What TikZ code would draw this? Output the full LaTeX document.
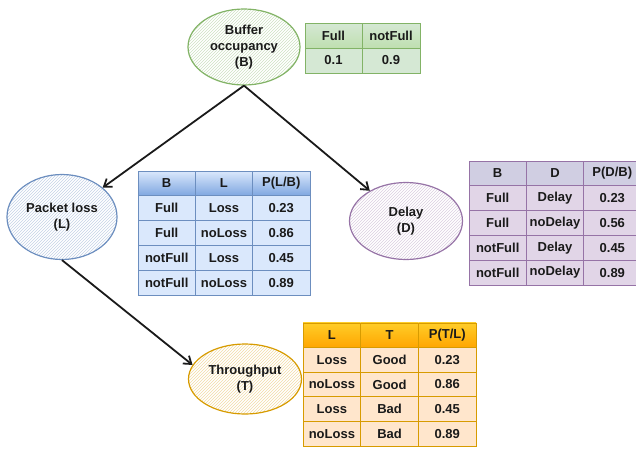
\documentclass[tikz,border=0pt]{standalone}
\usepackage{fontspec}
\setmainfont{Liberation Sans}
\usetikzlibrary{shapes.geometric,patterns,arrows.meta}

\definecolor{txt}{HTML}{1A1A1A}
\definecolor{grnline}{HTML}{82B366}
\definecolor{grnfill}{HTML}{D5E8D4}
\definecolor{grnhead}{HTML}{BFDFB0}
\definecolor{bluline}{HTML}{6C8EBF}
\definecolor{blufill}{HTML}{DAE8FC}
\definecolor{bluhead}{HTML}{7EA6E0}
\definecolor{purline}{HTML}{9673A6}
\definecolor{purfill}{HTML}{E1D5E7}
\definecolor{purhead}{HTML}{D0CEE2}
\definecolor{orgline}{HTML}{D79B00}
\definecolor{orgfill}{HTML}{FFE6CC}
\definecolor{orgtop}{HTML}{FFCD28}
\definecolor{orgbot}{HTML}{FFA500}

\tikzset{
  var/.style={ellipse, draw, line width=1.2pt, pattern=north east lines,
    align=center, inner sep=0pt, text=txt,
    font=\fontsize{13}{16}\selectfont\bfseries},
  cell/.style={draw, line width=0.8pt, inner sep=0pt, minimum height=24.8pt,
    minimum width=57.3pt, text=txt, font=\fontsize{13}{15}\selectfont\bfseries},
  hdG/.style={cell, draw=grnline, top color=grnfill, bottom color=grnhead},
  rwG/.style={cell, draw=grnline, fill=grnfill},
  hdL/.style={cell, draw=bluline, top color=blufill, bottom color=bluhead},
  rwL/.style={cell, draw=bluline, fill=blufill},
  hdD/.style={cell, draw=purline, fill=purhead},
  rwD/.style={cell, draw=purline, fill=purfill},
  hdT/.style={cell, draw=orgline, top color=orgtop, bottom color=orgbot, minimum width=57.7pt},
  rwT/.style={cell, draw=orgline, fill=orgfill, minimum width=57.7pt},
  link/.style={line width=1.8pt, draw=txt, -{Straight Barb[length=7pt,width=10pt]}},
}

\begin{document}
\begin{tikzpicture}[x=1pt,y=-1pt]
  \useasboundingbox (0,0) rectangle (636,450);

  % variables
  \node[var, draw=grnline, pattern color=grnline!40, minimum width=112pt, minimum height=76pt] (B) at (244,47) {Buffer\\occupancy\\(B)};
  \node[var, draw=bluline, pattern color=bluline!40, minimum width=110pt, minimum height=85pt] (L) at (62,217) {Packet loss\\(L)};
  \node[var, draw=purline, pattern color=purline!35, minimum width=113pt, minimum height=77pt] (D) at (406,221) {Delay\\(D)};
  \node[var, draw=orgline, pattern color=orgline!35, minimum width=113pt, minimum height=70pt] (T) at (245,379) {Throughput\\(T)};

  \draw[link] (B.south) -- (L);
  \draw[link] (B.south) -- (D);
  \draw[link] (L.south) -- (T.165);

  % table of B
  \node[hdG, minimum width=57pt] (Bh1) at (333.5,35.5) {Full};
  \node[hdG, minimum width=58pt] (Bh2) at (391,35.5) {notFull};
  \node[rwG, minimum width=57pt] (Bv1) at (333.5,60.5) {0.1};
  \node[rwG, minimum width=58pt] (Bv2) at (391,60.5) {0.9};

  % table of L
  \foreach \h [count=\c] in {B,L,P(L/B)}
    \node[hdL] (Lh\c) at ({138+57.3*(\c-0.5)},183.4) {\h};
  \foreach \a/\b/\p [count=\r] in {Full/Loss/0.23,Full/noLoss/0.86,notFull/Loss/0.45,notFull/noLoss/0.89}{
    \node[rwL] (Lr\r a) at (166.7,{183.4+24.8*\r}) {\a};
    \node[rwL] (Lr\r b) at (224,{183.4+24.8*\r}) {\b};
    \node[rwL] (Lr\r c) at (281.3,{183.4+24.8*\r}) {\p};
  }

  % table of D
  \foreach \h [count=\c] in {B,D,P(D/B)}
    \node[hdD] (Dh\c) at ({469+57.3*(\c-0.5)},173.4) {\h};
  \foreach \a/\b/\p [count=\r] in {Full/Delay/0.23,Full/noDelay/0.56,notFull/Delay/0.45,notFull/noDelay/0.89}{
    \node[rwD] (Dr\r a) at (497.7,{173.4+24.8*\r}) {\a};
    \node[rwD] (Dr\r b) at (555,{173.4+24.8*\r}) {\b};
    \node[rwD] (Dr\r c) at (612.3,{173.4+24.8*\r}) {\p};
  }

  % table of T
  \foreach \h [count=\c] in {L,T,P(T/L)}
    \node[hdT] (Th\c) at ({303+57.7*(\c-0.5)},335.3) {\h};
  \foreach \a/\b/\p [count=\r] in {Loss/Good/0.23,noLoss/Good/0.86,Loss/Bad/0.45,noLoss/Bad/0.89}{
    \node[rwT] (Tr\r a) at (331.9,{335.3+24.6*\r}) {\a};
    \node[rwT] (Tr\r b) at (389.6,{335.3+24.6*\r}) {\b};
    \node[rwT] (Tr\r c) at (447.3,{335.3+24.6*\r}) {\p};
  }
\end{tikzpicture}
\end{document}
